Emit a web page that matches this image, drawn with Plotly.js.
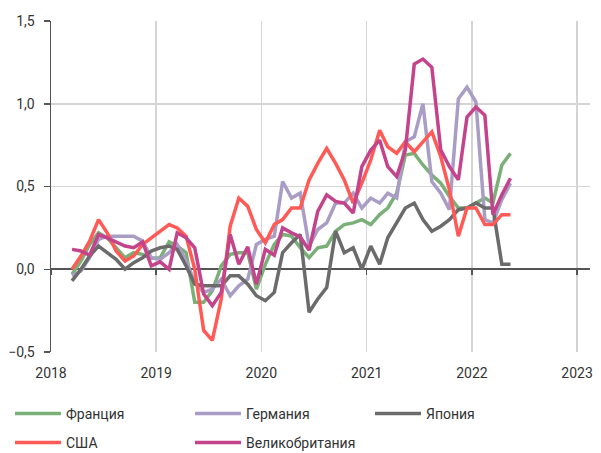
<!DOCTYPE html>
<html>
<head>
<meta charset="utf-8">
<script src="https://cdn.plot.ly/plotly-3.0.1.min.js"></script>
<style>html,body{margin:0;padding:0;background:#fff;}#chart{width:601px;height:453px;}</style>
</head>
<body>
<div id="chart"></div>
<script>
const months = ['2018-03-15','2018-04-15','2018-05-15','2018-06-15','2018-07-15','2018-08-15','2018-09-15','2018-10-15','2018-11-15','2018-12-15',
'2019-01-15','2019-02-15','2019-03-15','2019-04-15','2019-05-15','2019-06-15','2019-07-15','2019-08-15','2019-09-15','2019-10-15','2019-11-15','2019-12-15',
'2020-01-15','2020-02-15','2020-03-15','2020-04-15','2020-05-15','2020-06-15','2020-07-15','2020-08-15','2020-09-15','2020-10-15','2020-11-15','2020-12-15',
'2021-01-15','2021-02-15','2021-03-15','2021-04-15','2021-05-15','2021-06-15','2021-07-15','2021-08-15','2021-09-15','2021-10-15','2021-11-15','2021-12-15',
'2022-01-15','2022-02-15','2022-03-15','2022-04-15','2022-05-15'];

const france = [-0.03,0.05,0.15,0.22,0.19,0.13,0.07,0.10,0.09,0.065,0.07,0.165,0.14,0.10,-0.20,-0.20,-0.13,0.02,0.09,0.10,0.10,-0.12,0.03,
0.15,0.21,0.20,0.13,0.07,0.13,0.14,0.23,0.27,0.28,0.30,0.27,0.33,0.37,0.46,0.69,0.70,0.63,0.57,0.52,0.44,0.37,0.37,0.40,0.43,0.40,0.63,0.70];

const germany = [-0.04,-0.01,0.07,0.18,0.20,0.20,0.20,0.20,0.17,0.07,0.06,0.10,0.15,0.05,-0.08,-0.14,-0.12,-0.06,-0.16,-0.10,-0.06,0.15,0.18,
0.20,0.53,0.43,0.46,0.14,0.24,0.28,0.40,0.40,0.46,0.37,0.43,0.40,0.46,0.43,0.77,0.80,1.00,0.53,0.46,0.36,1.03,1.10,1.01,0.30,0.28,0.42,0.52];

const japan = [-0.07,0.00,0.08,0.14,0.10,0.06,0.00,0.04,0.07,0.11,0.13,0.14,0.12,0.02,-0.09,-0.10,-0.10,-0.10,-0.04,-0.04,-0.09,-0.16,-0.19,
-0.14,0.10,0.16,0.21,-0.26,-0.18,-0.11,0.23,0.10,0.13,0.00,0.14,0.03,0.19,0.28,0.37,0.40,0.30,0.23,0.26,0.30,0.36,0.37,0.40,0.37,0.37,0.03,0.03];

const usa = [0.00,0.08,0.17,0.30,0.22,0.11,0.05,0.08,0.15,0.19,0.23,0.27,0.25,0.20,0.00,-0.37,-0.43,-0.18,0.26,0.43,0.38,0.24,0.16,
0.27,0.30,0.37,0.37,0.54,0.64,0.73,0.64,0.54,0.40,0.52,0.66,0.84,0.74,0.70,0.77,0.71,0.77,0.83,0.68,0.48,0.20,0.37,0.37,0.27,0.27,0.33,0.33];

const uk = [0.12,0.11,0.085,0.21,0.19,0.165,0.14,0.13,0.165,0.02,0.045,0.00,0.22,0.19,0.13,-0.15,-0.22,-0.14,0.21,0.03,0.135,-0.09,0.12,
0.085,0.25,0.22,0.195,0.115,0.35,0.45,0.41,0.40,0.34,0.62,0.72,0.78,0.62,0.56,0.72,1.24,1.27,1.22,0.72,0.62,0.54,0.92,0.98,0.93,0.33,0.45,0.55];

const seriesNames = ['Франция','Германия','Япония','США','Великобритания'];
const seriesColors = ['#7aaf78','#a99dc6','#6b6b6b','#ff5a55','#c4448c'];
const seriesLegend = ['legend','legend','legend','legend2','legend2'];
const yearTicks = ['2018-01-01','2019-01-01','2020-01-01','2021-01-01','2022-01-01','2023-01-01'];
const yearLabels = ['2018','2019','2020','2021','2022','2023'];

const allSeries = [france, germany, japan, usa, uk];
const traces = allSeries.map((vals, i) => ({
  type: 'scatter', mode: 'lines', x: months, y: vals, name: seriesNames[i],
  legend: seriesLegend[i],
  line: {color: seriesColors[i], width: 3.5}
}));
// helper (empty) trace to host the tick-mark axis on the zero line
traces.push({type:'scatter', mode:'lines', x: [], y: [], xaxis:'x2', yaxis:'y', showlegend:false, hoverinfo:'skip'});

const font = {family: 'Roboto, "Open Sans", sans-serif', size: 14, color: '#333333'};

const legendBase = {
  orientation: 'h', xref: 'container', yref: 'container', x: 0.0166, xanchor: 'left', yanchor: 'middle',
  entrywidth: 119, entrywidthmode: 'pixels', itemwidth: 46,
  font: font, bgcolor: 'rgba(0,0,0,0)', borderwidth: 0
};

const layout = {
  width: 601, height: 453,
  margin: {l: 51, r: 11, t: 21, b: 101},
  paper_bgcolor: '#ffffff', plot_bgcolor: '#ffffff',
  separators: ', ',
  font: font,
  showlegend: true,
  xaxis: {
    type: 'date', range: ['2018-01-01', '2023-02-15'],
    tickmode: 'array', tickvals: yearTicks, ticktext: yearLabels,
    showgrid: true, gridcolor: '#d4d4d4', gridwidth: 1.5,
    zeroline: false, showline: false, ticks: '',
    ticklabelstandoff: 11,
    tickfont: font, fixedrange: true
  },
  xaxis2: {
    type: 'date', overlaying: 'x', matches: 'x', anchor: 'free', position: 0.25,
    tickmode: 'array', tickvals: yearTicks, showticklabels: false,
    showgrid: false, zeroline: false, showline: false,
    ticks: 'outside', ticklen: 5, tickwidth: 1.5, tickcolor: '#555555'
  },
  yaxis: {
    range: [-0.5, 1.5], tickmode: 'linear', tick0: -0.5, dtick: 0.5, tickformat: '.1f',
    showgrid: true, gridcolor: '#d4d4d4', gridwidth: 1.5,
    zeroline: true, zerolinecolor: '#555555', zerolinewidth: 2,
    showline: true, linecolor: '#555555', linewidth: 1.5,
    ticks: 'outside', ticklen: 6, tickcolor: '#555555', tickwidth: 1.5,
    ticklabelstandoff: 6,
    tickfont: font, fixedrange: true
  },
  legend: Object.assign({}, legendBase, {y: 0.0861}),
  legend2: Object.assign({}, legendBase, {y: 0.0221})
};

Plotly.newPlot('chart', traces, layout, {displayModeBar: false, staticPlot: true});
</script>
</body>
</html>
